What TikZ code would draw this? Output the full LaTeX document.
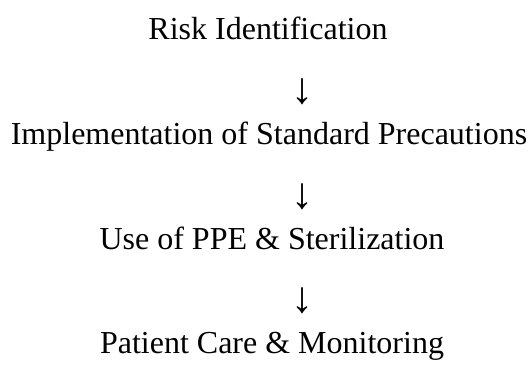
\documentclass[tikz,border=0pt]{standalone}
\usepackage{fontspec}
\setmainfont{Liberation Serif}
\begin{document}
\begin{tikzpicture}[x=1pt,y=1pt,
  steptext/.style={inner sep=0pt, anchor=base, font=\fontsize{32}{38}\selectfont},
  arrowglyph/.style={inner sep=0pt, anchor=center, font=\fontsize{44}{50}\selectfont}]
\useasboundingbox (0,0) rectangle (530,-374);
\node[steptext] (s1) at (268,-40) {Risk Identification};
\node[arrowglyph] (a1) at (302,-92) {↓};
\node[steptext] (s2) at (269,-145) {Implementation of Standard Precautions};
\node[arrowglyph] (a2) at (302,-197) {↓};
\node[steptext] (s3) at (272,-249) {Use of PPE \& Sterilization};
\node[arrowglyph] (a3) at (302,-301) {↓};
\node[steptext] (s4) at (272,-353) {Patient Care \& Monitoring};
\end{tikzpicture}
\end{document}
